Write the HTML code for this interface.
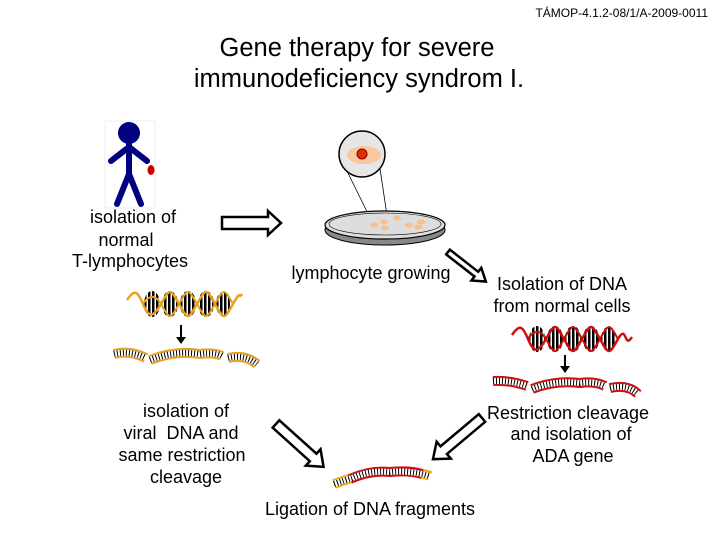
<!DOCTYPE html>
<html><head><meta charset="utf-8"><style>
html,body{margin:0;padding:0;background:#fff;}
svg{display:block;font-family:"Liberation Sans",Arial,sans-serif;}
</style></head><body>
<svg width="720" height="540" viewBox="0 0 720 540" xmlns="http://www.w3.org/2000/svg">
<defs>
<pattern id="st" width="4" height="4" patternUnits="userSpaceOnUse"><rect width="4" height="4" fill="#000"/><rect x="2.5" width="1.5" height="4" fill="#fff"/></pattern>
</defs>
<text x="708" y="17" font-size="12" text-anchor="end">TÁMOP-4.1.2-08/1/A-2009-0011</text>
<text x="357" y="56" font-size="25.5" text-anchor="middle">Gene therapy for severe</text>
<text x="359" y="87" font-size="25.5" text-anchor="middle">immunodeficiency syndrom I.</text>

<!-- person -->
<rect x="105" y="121" width="50" height="87" fill="none" stroke="#eee"/>
<g stroke="#000080" stroke-width="6" stroke-linecap="round" fill="none">
<line x1="129" y1="140" x2="129" y2="176"/>
<line x1="111" y1="161" x2="129" y2="147"/><line x1="147" y1="161" x2="129" y2="147"/>
<line x1="129" y1="174" x2="117" y2="204"/><line x1="129" y1="174" x2="141" y2="204"/>
</g>
<circle cx="129" cy="133" r="11" fill="#000080"/>
<ellipse cx="151" cy="170" rx="3.5" ry="5" fill="#cc0000"/>

<g font-size="18" text-anchor="middle">
<text x="133" y="223">isolation of</text><text x="126" y="246">normal</text><text x="130" y="267">T-lymphocytes</text>
<text x="371" y="279">lymphocyte growing</text>
<text x="562" y="290">Isolation of DNA</text><text x="562" y="312">from normal cells</text>
<text x="568" y="419">Restriction cleavage</text><text x="571" y="440">and isolation of</text><text x="573" y="462">ADA gene</text>
<text x="186" y="417">isolation of</text><text x="181" y="439">viral&#160; DNA and</text><text x="182" y="461">same restriction</text><text x="186" y="483">cleavage</text>
<text x="370" y="515">Ligation of DNA fragments</text>
</g>

<!-- hollow arrows -->
<g fill="#fff" stroke="#000" stroke-width="2.5" stroke-linejoin="miter">
<path d="M222,217 H268 V211 L281,223 L268,235 V229 H222 Z"/>
<path transform="translate(448,252) rotate(38)" d="M0,-3 H36 V-8 L48,0 L36,8 V3 H0 Z"/>
<path transform="translate(276,424) rotate(42)" d="M0,-5 H50 V-11 L64,0 L50,11 V5 H0 Z"/>
<path transform="translate(482,418) rotate(140)" d="M0,-5 H50 V-11 L64,0 L50,11 V5 H0 Z"/>
</g>

<!-- petri dish -->
<line x1="347" y1="171" x2="374" y2="226" stroke="#000" stroke-width="0.8"/>
<line x1="379" y1="162" x2="388" y2="222" stroke="#000" stroke-width="0.8"/>
<circle cx="362" cy="154" r="23" fill="#e6e6e6" stroke="#000" stroke-width="1.5"/>
<ellipse cx="364" cy="155" rx="17" ry="9" fill="#f8c8a0"/>
<circle cx="362" cy="154" r="5" fill="#e03000" stroke="#800" stroke-width="1"/>
<ellipse cx="385" cy="230" rx="60" ry="15" fill="#888" stroke="#000" stroke-width="1"/>
<ellipse cx="385" cy="225" rx="60" ry="14" fill="#ddd" stroke="#000" stroke-width="1.2"/>
<ellipse cx="385" cy="224" rx="56" ry="11" fill="#ddd" stroke="#000" stroke-width="0.6"/>
<g fill="#f8c090">
<ellipse cx="374" cy="225" rx="4" ry="2.5"/><ellipse cx="384" cy="222" rx="4" ry="2.5"/><ellipse cx="397" cy="218" rx="4" ry="2.5"/><ellipse cx="409" cy="225" rx="4" ry="2.5"/><ellipse cx="421" cy="222" rx="4" ry="2.5"/><ellipse cx="385" cy="228" rx="4" ry="2.5"/><ellipse cx="418" cy="227" rx="4" ry="2.5"/>
</g>

<!-- left helix -->
<g>
<g fill="url(#st)">
<ellipse cx="152" cy="304" rx="8" ry="13"/><ellipse cx="170" cy="304" rx="8" ry="13"/><ellipse cx="188" cy="304" rx="8" ry="13"/><ellipse cx="206" cy="304" rx="8" ry="13"/><ellipse cx="223" cy="304" rx="7" ry="12"/>
</g>
<path d="M127,300 C135,288 138,292 143,304 S152,320 161,304 S170,288 179,304 S188,320 197,304 S206,288 215,304 S224,320 233,304 S238,300 242,294" fill="none" stroke="#e8a020" stroke-width="2.5"/>
<path d="M143,304 S152,288 161,304 S170,320 179,304 S188,288 197,304 S206,320 215,304 S224,288 233,304" fill="none" stroke="#e8a020" stroke-width="2"/>
</g>
<line x1="181" y1="325" x2="181" y2="338" stroke="#000" stroke-width="2"/><path d="M176,337 L186,337 L181,344 Z"/>
<g fill="none">
<path d="M114,354 Q130,350 146,358 M150,360 Q175,350 200,354 Q215,352 222,356 M228,358 Q245,354 257,364" stroke="#e8a020" stroke-width="10"/>
<path d="M114,354 Q130,350 146,358 M150,360 Q175,350 200,354 Q215,352 222,356 M228,358 Q245,354 257,364" stroke="#fff" stroke-width="6"/>
<path d="M114,354 Q130,350 146,358 M150,360 Q175,350 200,354 Q215,352 222,356 M228,358 Q245,354 257,364" stroke="#000" stroke-width="6" stroke-dasharray="1 2"/>
</g>

<!-- right helix -->
<g>
<g fill="url(#st)">
<ellipse cx="537" cy="339" rx="8" ry="13"/><ellipse cx="555" cy="339" rx="8" ry="13"/><ellipse cx="573" cy="339" rx="8" ry="13"/><ellipse cx="591" cy="339" rx="8" ry="13"/><ellipse cx="608" cy="339" rx="7" ry="12"/>
</g>
<path d="M512,335 C520,323 523,327 528,339 S537,355 546,339 S555,323 564,339 S573,355 582,339 S591,323 600,339 S609,355 618,339 S624,350 632,337" fill="none" stroke="#cc1010" stroke-width="2.5"/>
<path d="M528,339 S537,323 546,339 S555,355 564,339 S573,323 582,339 S591,355 600,339 S609,323 618,339" fill="none" stroke="#cc1010" stroke-width="2"/>
</g>
<line x1="565" y1="355" x2="565" y2="367" stroke="#000" stroke-width="2"/><path d="M560,366 L570,366 L565,373 Z"/>
<g fill="none">
<path d="M493,381 Q510,380 527,386 M532,389 Q555,380 580,383 Q595,381 605,386 M610,388 Q628,384 638,394" stroke="#cc1010" stroke-width="10"/>
<path d="M493,381 Q510,380 527,386 M532,389 Q555,380 580,383 Q595,381 605,386 M610,388 Q628,384 638,394" stroke="#fff" stroke-width="6"/>
<path d="M493,381 Q510,380 527,386 M532,389 Q555,380 580,383 Q595,381 605,386 M610,388 Q628,384 638,394" stroke="#000" stroke-width="6" stroke-dasharray="1 2"/>
</g>

<!-- ligated -->
<g fill="none">
<path d="M334,484 Q345,480 352,478" stroke="#e8b020" stroke-width="10"/>
<path d="M420,474 Q426,474 430,476" stroke="#e8b020" stroke-width="10"/>
<path d="M350,479 Q370,470 390,472 Q410,470 422,474" stroke="#cc1010" stroke-width="10"/>
<path d="M334,484 Q345,480 352,478 Q370,470 390,472 Q410,470 430,476" stroke="#fff" stroke-width="6"/>
<path d="M334,484 Q345,480 352,478 Q370,470 390,472 Q410,470 430,476" stroke="#000" stroke-width="6" stroke-dasharray="1 2"/>
</g>
</svg>
</body></html>
